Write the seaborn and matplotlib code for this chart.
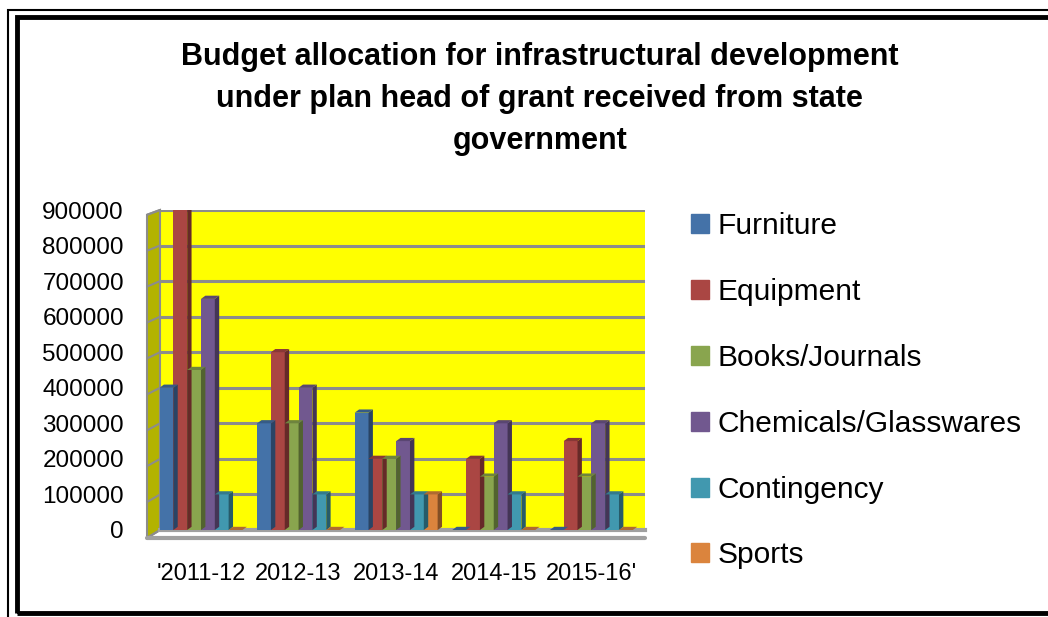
import numpy as np
import pandas as pd
import matplotlib
matplotlib.use('Agg')
import matplotlib.pyplot as plt
from matplotlib.patches import Rectangle, Polygon
import seaborn as sb

# Data
years = ["'2011-12", "2012-13", "2013-14", "2014-15", "2015-16'"]
furniture = [400000, 300000, 330000, 0, 0]
equipment = [900000, 500000, 200000, 200000, 250000]
books = [450000, 300000, 200000, 150000, 150000]
chemicals = [650000, 400000, 250000, 300000, 300000]
contingency = [100000, 100000, 100000, 100000, 100000]
sports = [0, 0, 100000, 0, 0]

series_names = ['Furniture', 'Equipment', 'Books/Journals',
                'Chemicals/Glasswares', 'Contingency', 'Sports']
colors = ['#4472A8', '#AA4643', '#89A54E', '#71588F', '#4198AF', '#DB843D']

df = pd.DataFrame({'year': years, 'Furniture': furniture, 'Equipment': equipment,
                   'Books/Journals': books, 'Chemicals/Glasswares': chemicals,
                   'Contingency': contingency, 'Sports': sports})
long = df.melt(id_vars='year', var_name='item', value_name='amount')

sb.set_style('white')
plt.rcParams['font.family'] = ['Liberation Sans', 'DejaVu Sans']
plt.rcParams['text.color'] = 'black'
plt.rcParams['xtick.color'] = 'black'
plt.rcParams['ytick.color'] = 'black'

fig = plt.figure(figsize=(10.48, 6.17), dpi=100)
ax = fig.add_axes([160 / 1048, 87 / 617, 485 / 1048, 320 / 617])
ax.set_facecolor('#FFFF00')

sb.barplot(data=long, x='year', y='amount', hue='item', hue_order=series_names,
           palette=colors, width=0.85, saturation=1, ax=ax, legend=False, zorder=3,
           edgecolor='none', linewidth=0)

# fake 3D depth on each bar
dx, dy = 0.045, 9000
for patch, col in zip(list(ax.patches), np.repeat(colors, len(years))):
    x0, y0 = patch.get_x(), patch.get_y()
    w, h = patch.get_width(), patch.get_height()
    c = np.array(matplotlib.colors.to_rgb(col))
    side = Polygon([[x0 + w, y0], [x0 + w + dx, y0 + dy], [x0 + w + dx, h + dy], [x0 + w, h]],
                   closed=True, facecolor=c * 0.6, edgecolor='none', zorder=3)
    top = Polygon([[x0, h], [x0 + dx, h + dy], [x0 + w + dx, h + dy], [x0 + w, h]],
                  closed=True, facecolor=c * 0.8, edgecolor='none', zorder=3)
    ax.add_patch(side)
    ax.add_patch(top)

ax.set_ylim(0, 900000)
ax.set_xlim(-0.42, 4.55)
ax.set_yticks(np.arange(0, 900001, 100000))
ax.set_yticklabels([str(v) for v in range(0, 900001, 100000)], fontsize=17.5)
ax.yaxis.grid(True, color='#8C8C8C', linewidth=2.2, zorder=0)
ax.set_axisbelow(True)
ax.tick_params(axis='y', length=0, pad=26)
ax.tick_params(axis='x', length=0, pad=24, labelsize=17)
ax.set_xlabel('')
ax.set_ylabel('')
for s in ['top', 'right', 'left']:
    ax.spines[s].set_visible(False)
ax.spines['bottom'].set_color('#A0A0A0')
ax.spines['bottom'].set_linewidth(3)

# olive side wall on the left (axes coords)
wx = 13 / 485
wall = Polygon([[-wx, -0.025], [0, 0], [0, 1.0], [-wx, 0.985]], closed=True,
               transform=ax.transAxes, facecolor='#B3B300', edgecolor='#8C8C8C',
               linewidth=1.5, clip_on=False, zorder=1)
ax.add_patch(wall)
for t in np.arange(0, 1.01, 1 / 9):
    ax.plot([-wx, 0], [t - 0.025 + 0.01 * t, t], transform=ax.transAxes, color='#8C8C8C',
            linewidth=1.5, clip_on=False, zorder=2)
# floor edge
ax.plot([-wx, 1.0], [-0.025, -0.025], transform=ax.transAxes, color='#A0A0A0',
        linewidth=3, clip_on=False, zorder=2)

# title
fig.text(0.515, 1 - 42 / 617, 'Budget allocation for infrastructural development\n'
         'under plan head of grant received from state\ngovernment',
         ha='center', va='top', fontsize=22, fontweight='bold', linespacing=1.53)

# legend
handles = [Rectangle((0, 0), 1, 1, color=c) for c in colors]
fig.legend(handles, series_names, loc='upper left', bbox_to_anchor=(664 / 1048, 1 - 185 / 617),
           frameon=False, fontsize=21.5, handlelength=0.6, handleheight=0.6,
           labelspacing=1.27, handletextpad=0.3, labelcolor='black')

# double border around the chart
fig.patches.append(Rectangle((8 / 1048, -0.1), 1.2, 1 - 10 / 617 + 0.1, transform=fig.transFigure,
                             fill=False, edgecolor='black', linewidth=1.5))
fig.patches.append(Rectangle((17 / 1048, 4 / 617), 1.2, 1 - 21 / 617, transform=fig.transFigure,
                             fill=False, edgecolor='black', linewidth=3.5))

fig.savefig('out.png', dpi=100)
